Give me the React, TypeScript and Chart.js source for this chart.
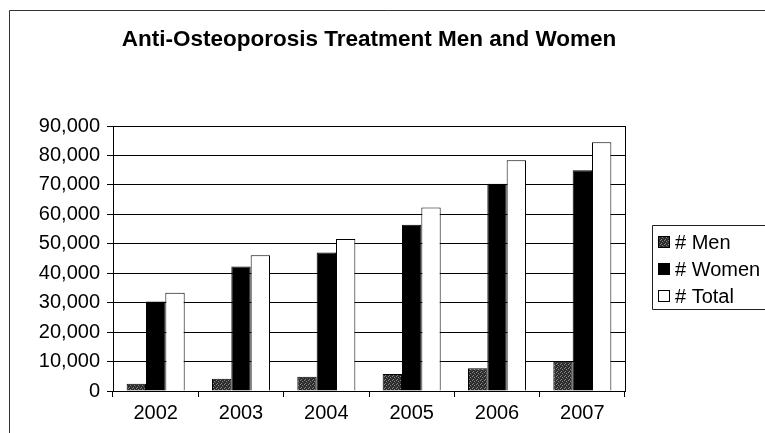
import React, { useEffect, useRef } from "react";
import { Chart, registerables } from "chart.js";

Chart.register(...registerables);

const chartTitle = "Anti-Osteoporosis Treatment Men and Women";
const years = ["2002", "2003", "2004", "2005", "2006", "2007"];
const menValues = [2500, 4200, 4800, 5800, 7700, 9900];
const womenValues = [30400, 42300, 47000, 56500, 70400, 75000];
const totalValues = [33400, 46100, 51600, 62300, 78400, 84500];
const seriesLabels = ["# Men", "# Women", "# Total"];
const yMin = 0;
const yMax = 90000;
const yStep = 10000;

const FONT = "'Liberation Sans', Arial, Helvetica, sans-serif";

function makeMenPattern(): CanvasPattern | string {
  const c = document.createElement("canvas");
  c.width = 4;
  c.height = 4;
  const g = c.getContext("2d");
  if (!g) return "#333";
  g.fillStyle = "#2b2b2b";
  g.fillRect(0, 0, 4, 4);
  g.fillStyle = "#8a8a8a";
  g.fillRect(0, 0, 1, 1);
  g.fillRect(2, 1, 1, 1);
  g.fillRect(1, 3, 1, 1);
  g.fillStyle = "#555";
  g.fillRect(3, 2, 1, 1);
  const p = g.createPattern(c, "repeat");
  return p || "#333";
}

const decorPlugin = {
  id: "decor",
  beforeDraw(chart: any) {
    const ctx = chart.ctx;
    ctx.save();
    ctx.fillStyle = "#ffffff";
    ctx.fillRect(0, 0, chart.width, chart.height);
    ctx.strokeStyle = "#333";
    ctx.lineWidth = 1;
    ctx.beginPath();
    ctx.moveTo(9.5, chart.height);
    ctx.lineTo(9.5, 10.5);
    ctx.lineTo(chart.width, 10.5);
    ctx.stroke();
    ctx.restore();
  },
  afterDraw(chart: any) {
    const ctx = chart.ctx;
    const { left, top, right, bottom } = chart.chartArea;
    ctx.save();
    ctx.strokeStyle = "#000";
    ctx.lineWidth = 1;
    ctx.strokeRect(Math.round(left) + 0.5, Math.round(top) + 0.5, Math.round(right - left), Math.round(bottom - top));

    // legend box (runs off the right edge)
    const bx = 652.5;
    const by = 225.5;
    const bh = 84;
    ctx.strokeStyle = "#222";
    ctx.beginPath();
    ctx.moveTo(chart.width + 5, by);
    ctx.lineTo(bx, by);
    ctx.lineTo(bx, by + bh);
    ctx.lineTo(chart.width + 5, by + bh);
    ctx.stroke();
    const rows = [242, 269, 296];
    ctx.font = `20px ${FONT}`;
    ctx.textBaseline = "middle";
    ctx.textAlign = "left";
    chart.data.datasets.forEach((ds: any, i: number) => {
      const y = rows[i];
      ctx.fillStyle = ds.backgroundColor;
      ctx.fillRect(658, y - 6, 12, 12);
      ctx.strokeStyle = "#000";
      ctx.strokeRect(658.5, y - 5.5, 11, 11);
      ctx.fillStyle = "#000";
      ctx.fillText(ds.label, 675, y + 1);
    });
    ctx.restore();
  },
};

export default function App() {
  const ref = useRef<HTMLCanvasElement | null>(null);

  useEffect(() => {
    if (!ref.current) return;
    const menFill = makeMenPattern();
    const chart = new Chart(ref.current, {
      type: "bar",
      data: {
        labels: years,
        datasets: [
          {
            label: seriesLabels[0],
            data: menValues,
            backgroundColor: menFill as any,
            borderColor: "#000",
            borderWidth: 1,
            categoryPercentage: 0.68,
            barPercentage: 1,
          },
          {
            label: seriesLabels[1],
            data: womenValues,
            backgroundColor: "#000000",
            borderColor: "#000",
            borderWidth: 1,
            categoryPercentage: 0.68,
            barPercentage: 1,
          },
          {
            label: seriesLabels[2],
            data: totalValues,
            backgroundColor: "#ffffff",
            borderColor: "#000",
            borderWidth: 1,
            categoryPercentage: 0.68,
            barPercentage: 1,
          },
        ],
      },
      options: {
        animation: false,
        responsive: true,
        maintainAspectRatio: false,
        devicePixelRatio: 1,
        layout: { padding: { left: 38, right: 140, top: 10, bottom: 4 } },
        plugins: {
          legend: { display: false },
          tooltip: { enabled: false },
          title: {
            display: true,
            text: chartTitle,
            fullSize: false,
            color: "#000",
            font: { family: FONT, size: 22.5, weight: "bold" },
            padding: { top: 16, bottom: 73 },
          },
        },
        scales: {
          x: {
            grid: { drawOnChartArea: false, drawTicks: true, tickLength: 6, color: "#000", offset: true },
            border: { color: "#000" },
            ticks: { color: "#000", font: { family: FONT, size: 20 }, padding: 4 },
          },
          y: {
            min: yMin,
            max: yMax,
            ticks: {
              stepSize: yStep,
              color: "#000",
              font: { family: FONT, size: 20 },
              padding: 7,
              callback: (v: any) => Number(v).toLocaleString("en-US"),
            },
            grid: { color: "#000", tickLength: 6 },
            border: { color: "#000" },
            afterFit: (scale: any) => {
              scale.width = 75;
            },
          },
        },
      },
      plugins: [decorPlugin],
    });
    return () => chart.destroy();
  }, []);

  return (
    <div style={{ position: "absolute", left: 0, top: 0, width: 765, height: 433, background: "#fff" }}>
      <canvas ref={ref} />
    </div>
  );
}
